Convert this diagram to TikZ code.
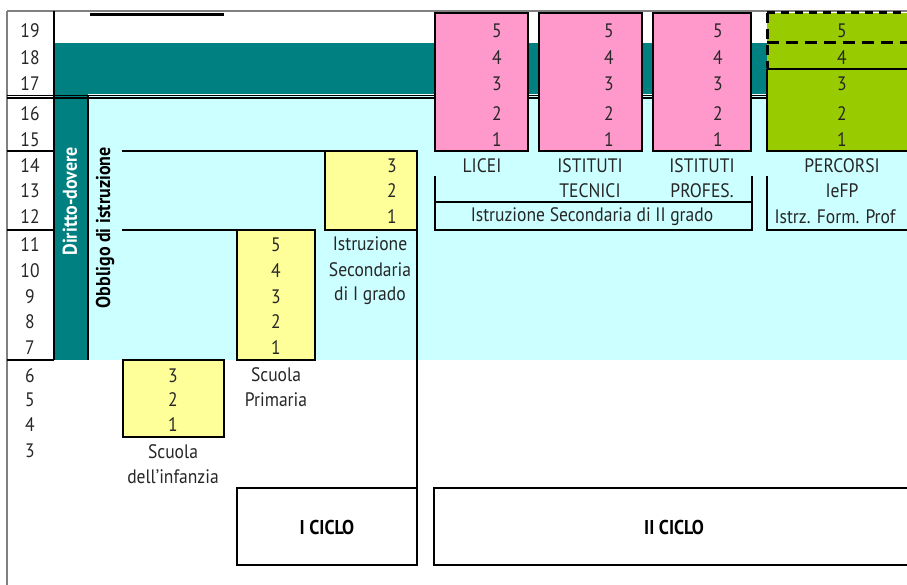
\documentclass[tikz,border=0pt]{standalone}
\usepackage{fontspec}
\setmainfont{PT Sans}[FakeStretch=0.9]
\definecolor{tealc}{HTML}{008080}
\definecolor{cyanc}{HTML}{CCFFFF}
\definecolor{yelc}{HTML}{FFFF99}
\definecolor{pinkc}{HTML}{FF99CC}
\definecolor{greenc}{HTML}{99CC00}
\definecolor{txt}{HTML}{262626}
\begin{document}
\begin{tikzpicture}[x=1pt,y=-1pt,
  lbl/.style={font=\fontsize{19.5}{19.5}\selectfont, text=txt, inner sep=0pt},
  bld/.style={font=\fontsize{20}{20}\selectfont\bfseries, inner sep=0pt},
  rule/.style={line width=2pt, black},
  boxy/.style={fill=yelc, draw=black, line width=2pt},
  boxp/.style={fill=pinkc, draw=black, line width=2pt},
  framebox/.style={draw=black, line width=2pt}]
\useasboundingbox (0,0) rectangle (907,585);
% backgrounds
\fill[tealc] (55,43) rectangle (907,94);
\fill[tealc] (55,43) rectangle (88,360);
\fill[cyanc] (88,96) rectangle (907,360);
% outer frame
\draw[gray, line width=2.5pt] (7,11) -- (907,11);
\draw[gray, line width=2.5pt] (7,11) -- (7,585);
% double line
\draw[black, line width=1.2pt] (7,95.3) -- (907,95.3);
\draw[black, line width=2pt] (7,98.5) -- (907,98.5);
% column divider and row lines
\draw[rule] (54,11) -- (54,360);
\draw[rule] (88,96) -- (88,360);
\draw[rule] (7,151) -- (54,151);
\draw[rule] (7,230) -- (54,230);
\draw[rule] (7,360) -- (54,360);
\draw[line width=2.5pt] (90,14.5) -- (224,14.5);
% lines inside cyan
\draw[rule] (122,151) -- (325,151);
\draw[rule] (122,230) -- (237,230);
% yellow boxes
\draw[boxy] (123,360) rectangle (224,437);
\draw[boxy] (237,230) rectangle (315,360);
\draw[boxy] (325,151) rectangle (417,230);
\draw[rule] (417,230) -- (417,488);
% cycle boxes
\draw[framebox] (237,488) rectangle (417,565);
\draw[framebox] (434,488) rectangle (912,565);
% pink boxes
\draw[boxp] (435,13) rectangle (528,151);
\draw[boxp] (539,13) rectangle (642,151);
\draw[boxp] (653,13) rectangle (751,151);
% green box
\fill[greenc] (767,13) rectangle (912,151);
\draw[black, line width=3pt, dash pattern=on 8pt off 6pt] (767,13) -- (907,13);
\draw[black, line width=3pt, dash pattern=on 12pt off 7pt] (767,43) -- (907,43);
\draw[black, line width=3pt, dash pattern=on 10pt off 6pt] (767,13) -- (767,68);
\draw[rule] (767,69.5) -- (912,69.5);
\draw[rule] (767,69) -- (767,151) -- (912,151);
% brackets
\draw[rule] (435,176) -- (435,230) -- (752,230) -- (752,176);
\draw[rule] (435,202) -- (752,202);
\draw[rule] (767,176) -- (767,230) -- (912,230);
% ages
\foreach \a/\y in {19/31,18/58,17/84,16/114,15/140,14/166,13/191,12/217,11/245,10/271,9/297,8/322,7/348,6/376,5/400,4/425,3/451}
  \node[lbl] (age\a) at (30,\y) {\a};
% pink / green numbers
\foreach \n/\y in {5/31,4/58,3/84,2/114,1/140}{
  \node[lbl] (lic\n) at (497,\y) {\n};
  \node[lbl] (tec\n) at (609,\y) {\n};
  \node[lbl] (pro\n) at (718,\y) {\n};
  \node[lbl] (fp\n) at (842,\y) {\n};
}
% secondaria I numbers
\foreach \n/\y in {3/166,2/191,1/217}
  \node[lbl] (sec\n) at (392,\y) {\n};
% primaria numbers
\foreach \n/\y in {5/245,4/271,3/297,2/322,1/348}
  \node[lbl] (pri\n) at (276,\y) {\n};
% infanzia numbers
\foreach \n/\y in {3/376,2/400,1/425}
  \node[lbl] (inf\n) at (173,\y) {\n};
% labels
\node[lbl] (licei) at (482,166) {LICEI};
\node[lbl] (tecA) at (590,166) {ISTITUTI};
\node[lbl] (tecB) at (590,191) {TECNICI};
\node[lbl] (proA) at (702,166) {ISTITUTI};
\node[lbl] (proB) at (702,191) {PROFES.};
\node[lbl] (fpA) at (842,166) {PERCORSI};
\node[lbl] (fpB) at (842,191) {IeFP};
\node[lbl] (fpC) at (835,217) {Istrz. Form. Prof};
\node[lbl] (sec2) at (592,217) {Istruzione Secondaria di II grado};
\node[lbl] (priA) at (276,375) {Scuola};
\node[lbl] (priB) at (276,400) {Primaria};
\node[lbl] (secA) at (370,244) {Istruzione};
\node[lbl] (secB) at (370,270) {Secondaria};
\node[lbl] (secC) at (370,296) {di I grado};
\node[lbl] (infA) at (173,452) {Scuola};
\node[lbl] (infB) at (173,477) {dell'infanzia};
\node[bld] (c1) at (327,527) {I CICLO};
\node[bld] (c2) at (674,527) {II CICLO};
\node[bld, text=white, rotate=90, anchor=east] (dd) at (70,147) {Diritto-dovere};
\node[bld, text=black, rotate=90, anchor=east] (obb) at (105,147) {Obbligo di istruzione};
\end{tikzpicture}
\end{document}
